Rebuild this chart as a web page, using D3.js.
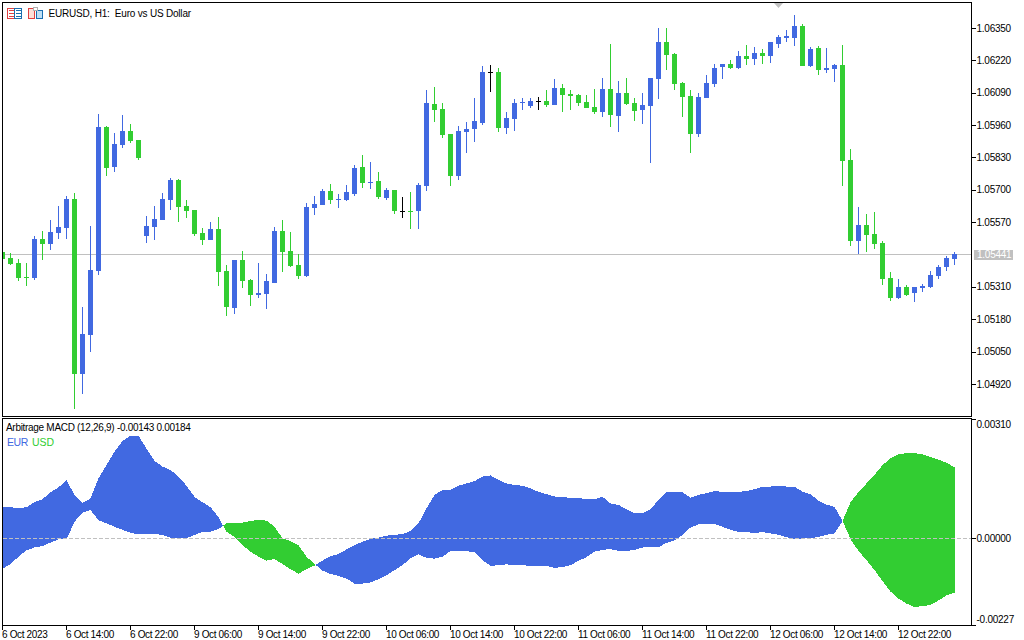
<!DOCTYPE html>
<html><head><meta charset="utf-8">
<script src="https://cdn.jsdelivr.net/npm/d3@7/dist/d3.min.js"></script>
<style>html,body{margin:0;padding:0;background:#fff}svg{display:block}text{font-family:"Liberation Sans",sans-serif;font-size:10px;fill:#000}</style>
</head><body><svg id="c" width="1024" height="640"></svg>
<script>
const open=[1.05450,1.05426,1.05406,1.05349,1.05345,1.05502,1.05482,1.05526,1.05546,1.05663,1.04960,1.05116,1.05373,1.05952,1.05791,1.05880,1.05936,1.05900,1.05514,1.05550,1.05578,1.05659,1.05739,1.05634,1.05618,1.05526,1.05498,1.05542,1.05373,1.05225,1.05418,1.05337,1.05277,1.05281,1.05325,1.05534,1.05454,1.05397,1.05353,1.05626,1.05639,1.05695,1.05659,1.05659,1.05683,1.05791,1.05727,1.05735,1.05667,1.05699,1.05616,1.05616,1.05614,1.05715,1.06044,1.06024,1.05924,1.05755,1.05932,1.05944,1.05968,1.06171,1.06173,1.05948,1.05984,1.06050,1.06036,1.06056,1.06056,1.06040,1.06109,1.06084,1.06080,1.06052,1.06032,1.06012,1.06104,1.05996,1.06088,1.06048,1.06020,1.06036,1.06145,1.06293,1.06245,1.06129,1.06076,1.05924,1.06068,1.06125,1.06193,1.06205,1.06189,1.06237,1.06225,1.06249,1.06237,1.06285,1.06309,1.06309,1.06358,1.06197,1.06269,1.06181,1.06185,1.06201,1.05819,1.05494,1.05558,1.05522,1.05486,1.05345,1.05265,1.05309,1.05285,1.05305,1.05309,1.05353,1.05389,1.05422];
const high=[1.05450,1.05446,1.05422,1.05406,1.05514,1.05534,1.05578,1.05634,1.05675,1.05687,1.05229,1.05554,1.06004,1.05956,1.05928,1.06000,1.05964,1.05900,1.05594,1.05634,1.05687,1.05747,1.05743,1.05659,1.05618,1.05546,1.05570,1.05590,1.05397,1.05418,1.05454,1.05341,1.05406,1.05361,1.05550,1.05578,1.05530,1.05442,1.05647,1.05675,1.05703,1.05723,1.05683,1.05719,1.05799,1.05839,1.05811,1.05771,1.05707,1.05699,1.05671,1.05691,1.05727,1.06100,1.06113,1.06048,1.05924,1.05956,1.05972,1.06068,1.06197,1.06201,1.06189,1.06012,1.06064,1.06068,1.06068,1.06072,1.06100,1.06145,1.06125,1.06100,1.06084,1.06080,1.06104,1.06149,1.06285,1.06137,1.06149,1.06068,1.06088,1.06149,1.06350,1.06350,1.06249,1.06133,1.06100,1.06088,1.06161,1.06205,1.06205,1.06221,1.06257,1.06281,1.06273,1.06265,1.06293,1.06321,1.06341,1.06402,1.06366,1.06273,1.06277,1.06269,1.06205,1.06281,1.05863,1.05630,1.05602,1.05610,1.05494,1.05369,1.05341,1.05317,1.05309,1.05321,1.05373,1.05397,1.05434,1.05450];
const low=[1.05422,1.05397,1.05333,1.05313,1.05337,1.05418,1.05458,1.05502,1.05502,1.04819,1.04879,1.05048,1.05357,1.05755,1.05771,1.05867,1.05888,1.05819,1.05486,1.05498,1.05578,1.05618,1.05570,1.05586,1.05514,1.05478,1.05498,1.05313,1.05193,1.05201,1.05305,1.05233,1.05265,1.05221,1.05325,1.05369,1.05389,1.05341,1.05349,1.05598,1.05639,1.05643,1.05626,1.05655,1.05675,1.05707,1.05703,1.05663,1.05659,1.05602,1.05586,1.05542,1.05542,1.05695,1.05972,1.05908,1.05715,1.05739,1.05847,1.05892,1.05960,1.06092,1.05932,1.05924,1.05936,1.06020,1.06028,1.06020,1.06032,1.06040,1.06012,1.06020,1.06036,1.06028,1.06004,1.05992,1.05952,1.05932,1.06040,1.05976,1.05964,1.05807,1.06064,1.06181,1.06100,1.05992,1.05847,1.05912,1.06068,1.06113,1.06145,1.06185,1.06185,1.06201,1.06201,1.06205,1.06209,1.06269,1.06293,1.06277,1.06197,1.06193,1.06161,1.06169,1.06133,1.05715,1.05474,1.05442,1.05450,1.05462,1.05317,1.05253,1.05261,1.05273,1.05249,1.05289,1.05305,1.05341,1.05373,1.05397];
const close=[1.05422,1.05402,1.05345,1.05345,1.05502,1.05482,1.05530,1.05550,1.05663,1.04960,1.05120,1.05377,1.05952,1.05787,1.05884,1.05936,1.05896,1.05827,1.05554,1.05582,1.05663,1.05739,1.05630,1.05614,1.05522,1.05498,1.05542,1.05369,1.05229,1.05418,1.05333,1.05277,1.05285,1.05333,1.05534,1.05450,1.05393,1.05353,1.05630,1.05643,1.05695,1.05659,1.05663,1.05691,1.05787,1.05727,1.05731,1.05671,1.05699,1.05614,1.05616,1.05612,1.05719,1.06048,1.06020,1.05920,1.05755,1.05936,1.05944,1.05976,1.06173,1.06171,1.05948,1.05988,1.06048,1.06054,1.06056,1.06056,1.06040,1.06109,1.06080,1.06076,1.06048,1.06028,1.06012,1.06104,1.06000,1.06088,1.06044,1.06016,1.06040,1.06149,1.06293,1.06241,1.06125,1.06072,1.05924,1.06072,1.06129,1.06189,1.06205,1.06189,1.06237,1.06225,1.06249,1.06237,1.06293,1.06313,1.06317,1.06358,1.06197,1.06265,1.06181,1.06189,1.06201,1.05815,1.05494,1.05558,1.05518,1.05482,1.05341,1.05265,1.05309,1.05277,1.05309,1.05313,1.05357,1.05389,1.05426,1.05441];
const eurMacd=[80,80,78,80,94,101,119,132,150,112,91,103,155,190,225,253,266,266,233,201,186,177,160,136,107,93,80,54,16,3,-19,-36,-49,-59,-55,-68,-82,-93,-82,-72,-59,-48,-42,-30,-19,-10,-3,1,6,8,10,18,38,77,112,125,125,136,142,148,160,163,151,142,138,136,129,120,114,108,107,104,104,101,101,107,90,86,75,65,65,75,99,121,121,119,105,112,117,122,120,119,120,122,127,133,134,136,134,133,121,114,97,87,81,45,-3,-34,-58,-84,-112,-140,-158,-171,-180,-178,-175,-163,-150,-143];
const usdMacd=[-81,-68,-49,-32,-25,-21,-12,-4,-4,42,66,73,46,38,29,21,14,9,10,10,8,1,-1,-1,8,15,16,23,38,39,40,44,47,45,29,-1,-8,-19,-49,-68,-85,-94,-99,-106,-119,-119,-116,-108,-97,-84,-71,-53,-43,-52,-54,-49,-34,-34,-34,-38,-58,-73,-71,-69,-71,-71,-73,-73,-73,-78,-76,-71,-60,-50,-36,-31,-29,-34,-34,-31,-25,-24,-24,-13,-6,8,27,35,36,36,29,21,16,15,13,15,12,8,2,-4,-1,-1,3,8,12,44,93,119,142,164,190,207,218,221,221,218,211,204,196,184];
const priceTicks=[1.06350,1.06220,1.06090,1.05960,1.05830,1.05700,1.05570,1.05310,1.05180,1.05050,1.04920];
const macdTicks=[0.00310,0,-0.00227];
const lastPrice=1.05441;
const timeTickBars=[0,8,16,24,32,40,48,56,64,72,80,88,96,104,112];
const timeLabels=["6 Oct 2023","6 Oct 14:00","6 Oct 22:00","9 Oct 06:00","9 Oct 14:00","9 Oct 22:00","10 Oct 06:00","10 Oct 14:00","10 Oct 22:00","11 Oct 06:00","11 Oct 14:00","11 Oct 22:00","12 Oct 06:00","12 Oct 14:00","12 Oct 22:00"];

const BLUE="#4169E1",GREEN="#32CD32",GREY="#c0c0c0";
const L=2.5,R=971.5,T1=2.5,B1=416.5,T2=418.5,B2=625.5;
const svg=d3.select("#c");
const x=d3.scaleLinear().domain([0,119]).range([2.5,954.5]);
const yP=d3.scaleLinear().domain([1.06462,1.04791]).range([0,416]);
const yM=d3.scaleLinear().domain([0.00310,-0.00227]).range([419,625]);
const fmt5=v=>d3.format(".5f")(v).replace("\u2212","-");

const defs=svg.append("defs");
defs.append("clipPath").attr("id","c1").append("rect").attr("x",3).attr("y",3).attr("width",968).attr("height",413);
defs.append("clipPath").attr("id","c2").append("rect").attr("x",3).attr("y",419).attr("width",968).attr("height",206);

// top candle pane
const g1=svg.append("g").attr("clip-path","url(#c1)").attr("shape-rendering","crispEdges");
g1.append("line").attr("x1",3).attr("x2",971).attr("y1",Math.floor(yP(lastPrice))+.5).attr("y2",Math.floor(yP(lastPrice))+.5).attr("stroke",GREY);
const idx=d3.range(open.length);
const col=i=>close[i]>open[i]?BLUE:close[i]<open[i]?GREEN:"#000";
const ry=v=>Math.round(yP(v));
g1.selectAll("rect.w").data(idx).join("rect").attr("class","w")
  .attr("x",i=>Math.floor(x(i))).attr("width",1)
  .attr("y",i=>ry(high[i])).attr("height",i=>Math.max(1,ry(low[i])-ry(high[i])))
  .attr("fill",col);
g1.selectAll("rect.b").data(idx).join("rect").attr("class","b")
  .attr("x",i=>Math.floor(x(i))-2).attr("width",5)
  .attr("y",i=>ry(Math.max(open[i],close[i])))
  .attr("height",i=>Math.max(1,ry(Math.min(open[i],close[i]))-ry(Math.max(open[i],close[i]))))
  .attr("fill",col);

// marker at top
svg.append("path").attr("d",d3.line()([[774,3],[783,3],[778.5,8]])).attr("fill",GREY);

// indicator pane
const g2=svg.append("g").attr("clip-path","url(#c2)").attr("shape-rendering","crispEdges");
const pts=[];
idx.forEach(i=>{
  const e=eurMacd[i],u=usdMacd[i];
  pts.push({i,e,u});
  if(i<idx.length-1){
    const d0=e-u,d1=eurMacd[i+1]-usdMacd[i+1];
    if(d0*d1<0){const t=d0/(d0-d1);const v=e+(eurMacd[i+1]-e)*t;pts.push({i:i+t,e:v,u:v});}
  }
});
const band=def=>d3.area().defined(def).x(d=>x(d.i)).y0(d=>yM(d.e/1e5)).y1(d=>yM(d.u/1e5));
g2.append("path").attr("fill",BLUE).attr("d",band(d=>d.e>=d.u)(pts));
g2.append("path").attr("fill",GREEN).attr("d",band(d=>d.u>=d.e)(pts));
g2.append("line").attr("x1",3).attr("x2",971).attr("y1",538.5).attr("y2",538.5)
  .attr("stroke",GREY).attr("stroke-dasharray","4,2");

// frames
const frame=svg.append("g").attr("fill","none").attr("stroke","#000").attr("shape-rendering","crispEdges");
frame.append("rect").attr("x",L).attr("y",T1).attr("width",R-L).attr("height",B1-T1);
frame.append("rect").attr("x",L).attr("y",T2).attr("width",R-L).attr("height",B2-T2);

// axes
const axP=svg.append("g").attr("transform",`translate(${R},0)`)
  .call(d3.axisRight(yP).tickValues(priceTicks).tickSize(4).tickPadding(1).tickFormat(fmt5));
const axM=svg.append("g").attr("transform",`translate(${R},0)`)
  .call(d3.axisRight(yM).tickValues(macdTicks).tickSize(4).tickPadding(1).tickFormat(fmt5));
const axT=svg.append("g").attr("transform",`translate(0,${B2})`)
  .call(d3.axisBottom(x).offset(0).tickValues(timeTickBars).tickSize(4).tickFormat((d,i)=>timeLabels[i]));
[axP,axM,axT].forEach(a=>{a.select(".domain").remove();a.selectAll("line").attr("stroke","#000").attr("shape-rendering","crispEdges");a.selectAll("text").style("font-family",'"Liberation Sans",sans-serif').style("font-size","10px").attr("fill","#000");});
axP.selectAll("text").style("letter-spacing","-0.25px");
axM.selectAll("text").style("letter-spacing","-0.25px");
axT.selectAll("text").attr("text-anchor","start").attr("y",12.5).attr("dy",0).attr("dx",-0.5).style("letter-spacing","-0.35px");
axM.selectAll(".tick").each(function(d){const t=d3.select(this).select("text");if(d>0)t.attr("dy","8px");else if(d<0)t.attr("dy","-2.5px");});

// current price label
const ly=Math.floor(yP(lastPrice))+.5;
svg.append("rect").attr("x",974).attr("y",ly-4.5).attr("width",39).attr("height",10).attr("fill",GREY).attr("shape-rendering","crispEdges");
svg.append("text").attr("x",977).attr("y",ly).attr("dy","0.35em").style("fill","#fff").style("letter-spacing","-0.25px").text(fmt5(lastPrice));

// titles
svg.append("text").attr("x",48.5).attr("y",17).text("EURUSD, H1:  Euro vs US Dollar").attr("xml:space","preserve").style("letter-spacing","-0.2px");
svg.append("text").attr("x",6).attr("y",431).style("letter-spacing","-0.3px").text("Arbitrage MACD (12,26,9) -0.00143 0.00184");
svg.append("text").attr("x",7).attr("y",446).style("fill",BLUE).style("font-size","10.5px").style("letter-spacing","-0.4px").text("EUR");
svg.append("text").attr("x",32).attr("y",446).style("fill",GREEN).style("font-size","10.5px").text("USD");

// toolbar icons
const ic=svg.append("g").attr("shape-rendering","crispEdges").attr("fill","none");
ic.append("rect").attr("x",7.5).attr("y",8.5).attr("width",7).attr("height",10).attr("stroke","#e04040").attr("fill","#fff");
ic.append("rect").attr("x",14.5).attr("y",8.5).attr("width",7).attr("height",10).attr("stroke","#1a6fb0").attr("fill","#fff");
[10.5,13.5,16.5].forEach(y=>{
  ic.append("line").attr("x1",9).attr("x2",14).attr("y1",y).attr("y2",y).attr("stroke","#e04040");
  ic.append("line").attr("x1",16).attr("x2",21).attr("y1",y).attr("y2",y).attr("stroke","#1a6fb0");
});
ic.append("rect").attr("x",28.5).attr("y",8.5).attr("width",6).attr("height",10).attr("stroke","#e04040").attr("fill","#fde0d8");
ic.append("rect").attr("x",36.5).attr("y",10.5).attr("width",6).attr("height",8).attr("stroke","#1a6fb0").attr("fill","#bfe0f5");
ic.append("rect").attr("x",33.5).attr("y",7.5).attr("width",4).attr("height",3).attr("stroke","#b0b0b0").attr("fill","#fff");
</script></body></html>
